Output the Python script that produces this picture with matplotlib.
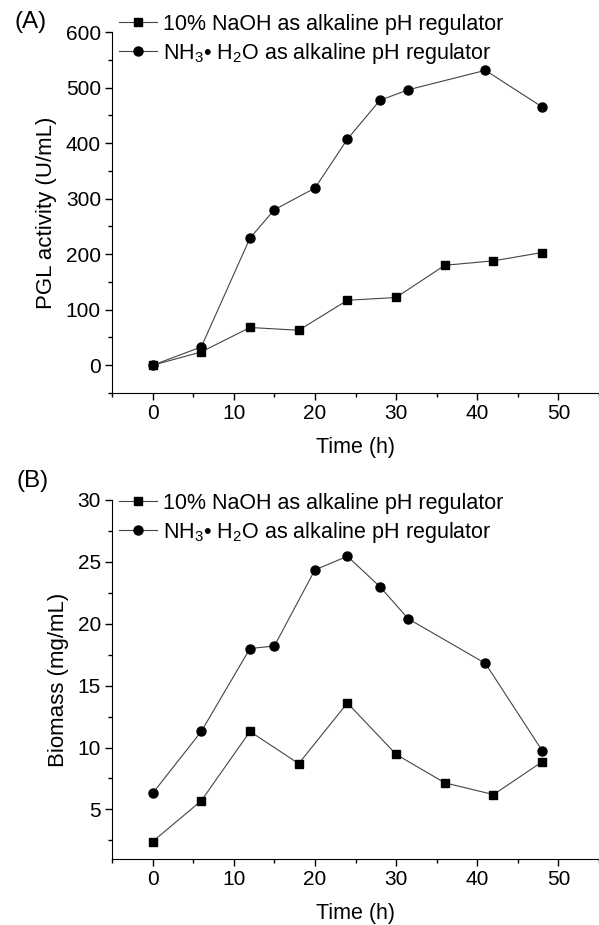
import numpy as np
from matplotlib import pyplot as plt
from matplotlib.ticker import MultipleLocator

plt.rcParams['font.family'] = ['Liberation Sans', 'DejaVu Sans']
plt.rcParams['mathtext.fontset'] = 'custom'
plt.rcParams['mathtext.rm'] = 'Liberation Sans'
plt.rcParams['mathtext.it'] = 'Liberation Sans:italic'

# sampling times (h)
t_naoh = [0, 6, 12, 18, 24, 30, 36, 42, 48]
t_nh3 = [0, 6, 12, 15, 20, 24, 28, 31.5, 41, 48]

# PGL activity (U/mL)
pgl_naoh = [0, 24, 68, 63, 117, 122, 180, 188, 203]
pgl_nh3 = [0, 33, 229, 280, 319, 407, 477, 496, 531, 465]

# biomass (mg/mL)
bio_naoh = [2.4, 5.7, 11.3, 8.7, 13.6, 9.45, 7.15, 6.2, 8.85]
bio_nh3 = [6.3, 11.3, 18.0, 18.2, 24.35, 25.45, 23.0, 20.4, 16.8, 9.75]

lab_naoh = '10% NaOH as alkaline pH regulator'
lab_nh3 = r'NH$_3$• H$_2$O as alkaline pH regulator'

fs = 15

fig = plt.figure(figsize=(5.99, 9.25), dpi=100)
axA = fig.add_axes([0.187, 0.5751, 0.813, 0.3903])
axB = fig.add_axes([0.187, 0.0714, 0.813, 0.3881])


def style(ax, ymin, ymax, ymaj, ymin_step, ylabel):
    for s in ['top', 'right']:
        ax.spines[s].set_visible(False)
    ax.set_xlim(-5, 55)
    ax.set_ylim(ymin, ymax)
    ax.xaxis.set_major_locator(MultipleLocator(10))
    ax.xaxis.set_minor_locator(MultipleLocator(5))
    ax.yaxis.set_major_locator(MultipleLocator(ymaj))
    ax.yaxis.set_minor_locator(MultipleLocator(ymin_step))
    ax.tick_params(which='major', length=5, width=1, labelsize=fs, pad=3)
    ax.tick_params(which='minor', length=3, width=1)
    ax.set_xlabel('Time (h)', fontsize=15.5, labelpad=10)
    ax.set_ylabel(ylabel, fontsize=16, labelpad=6)


for ax, yn, yh in [(axA, pgl_naoh, pgl_nh3), (axB, bio_naoh, bio_nh3)]:
    ax.plot(t_naoh, yn, '-', color='#444444', lw=0.8, marker='s', ms=5.5,
            mfc='black', mec='black', label=lab_naoh, clip_on=False)
    ax.plot(t_nh3, yh, '-', color='#444444', lw=0.8, marker='o', ms=6.5,
            mfc='black', mec='black', label=lab_nh3, clip_on=False)

style(axA, -50, 600, 100, 50, 'PGL activity (U/mL)')
style(axB, 1, 30, 5, 2.5, 'Biomass (mg/mL)')

for ax, yanc in [(axA, 0.979), (axB, 0.947)]:
    ax.legend(loc='center left', bbox_to_anchor=(-0.003, yanc), frameon=False,
              fontsize=15.5, handlelength=1.75, handletextpad=0.3,
              labelspacing=0.28, borderaxespad=0)

fig.text(0.025, 0.988, '(A)', fontsize=17.5, va='top')
fig.text(0.028, 0.492, '(B)', fontsize=17.5, va='top')

plt.savefig('out.png', dpi=100)
